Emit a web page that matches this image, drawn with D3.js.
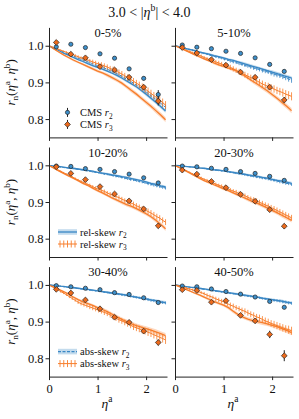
<!DOCTYPE html>
<html>
<head>
<meta charset="utf-8">
<script src="https://cdn.jsdelivr.net/npm/d3@7"></script>
<style>
  body { margin: 0; background: #fff; }
  svg text { font-family: "Liberation Serif", "DejaVu Serif", serif; fill: #111; }
</style>
</head>
<body>
<script>
// ---- data ----
const panelLabels = ["0-5%", "5-10%", "10-20%", "20-30%", "30-40%", "40-50%"];
const xTicks = [0, 1, 2];
const yTicks = [0.8, 0.9, 1.0];

// CMS points
const etaCMS = [0.15, 0.45, 0.75, 1.05, 1.35, 1.65, 1.95, 2.25];
const cmsR2 = [
  [0.997, 1.004, 0.995, 0.978, 0.966, 0.937, 0.911, 0.867],
  [1.002, 0.996, 0.992, 0.985, 0.979, 0.967, 0.949, 0.930],
  [0.998, 0.997, 0.991, 0.989, 0.983, 0.976, 0.966, 0.952],
  [0.998, 0.996, 0.992, 0.989, 0.983, 0.978, 0.970, 0.959],
  [0.998, 0.995, 0.991, 0.987, 0.979, 0.974, 0.965, 0.952],
  [0.997, 0.995, 0.989, 0.982, 0.975, 0.967, 0.955, 0.939]
];
const cmsR2Err = [
  [0.002, 0.002, 0.002, 0.003, 0.003, 0.004, 0.005, 0.012],
  [0.002, 0.002, 0.002, 0.002, 0.003, 0.003, 0.004, 0.005],
  [0.001, 0.001, 0.002, 0.002, 0.002, 0.002, 0.003, 0.003],
  [0.001, 0.001, 0.002, 0.002, 0.002, 0.002, 0.003, 0.003],
  [0.001, 0.001, 0.002, 0.002, 0.002, 0.002, 0.003, 0.004],
  [0.002, 0.002, 0.002, 0.002, 0.003, 0.003, 0.003, 0.004]
];
const cmsR3 = [
  [1.009, 0.977, 0.967, 0.943, 0.934, 0.914, 0.887, 0.849],
  [0.995, 0.980, 0.962, 0.947, 0.928, 0.914, 0.887, 0.852],
  [0.996, 0.978, 0.961, 0.942, 0.922, 0.903, 0.881, 0.835],
  [0.987, 0.976, 0.956, 0.939, 0.921, 0.902, 0.879, 0.834],
  [0.988, 0.978, 0.959, 0.935, 0.912, 0.898, 0.874, 0.843],
  [0.987, 0.985, 0.953, 0.957, 0.917, 0.902, 0.865, 0.807]
];
const cmsR3Err = [
  [0.003, 0.003, 0.004, 0.004, 0.005, 0.006, 0.007, 0.012],
  [0.003, 0.003, 0.003, 0.004, 0.004, 0.005, 0.006, 0.008],
  [0.002, 0.003, 0.003, 0.003, 0.004, 0.004, 0.005, 0.006],
  [0.002, 0.003, 0.003, 0.003, 0.004, 0.004, 0.005, 0.007],
  [0.002, 0.003, 0.003, 0.004, 0.004, 0.005, 0.006, 0.008],
  [0.003, 0.003, 0.004, 0.005, 0.005, 0.006, 0.010, 0.015]
];

// smooth model curves (line + shaded band)
const etaModel = [0, 0.1, 0.2, 0.3, 0.4, 0.5, 0.6, 0.7, 0.8, 0.9, 1.0, 1.1, 1.2,
                  1.3, 1.4, 1.5, 1.6, 1.7, 1.8, 1.9, 2.0, 2.1, 2.2, 2.3, 2.4];
const r2Band = [
  [1.000,.993,.987,.980,.974,.968,.962,.957,.951,.946,.941,.936,.931,.925,.919,.912,.904,.896,.888,.878,.868,.857,.846,.834,.822],
  [1.000,.997,.993,.990,.987,.983,.980,.977,.973,.970,.967,.963,.960,.956,.952,.948,.944,.940,.936,.932,.928,.924,.920,.916,.912],
  [1.000,.998,.997,.995,.993,.992,.990,.988,.986,.984,.981,.979,.977,.974,.972,.969,.967,.964,.961,.958,.955,.951,.948,.944,.941],
  [1.000,.999,.997,.996,.995,.993,.992,.990,.988,.987,.985,.983,.981,.979,.977,.974,.972,.970,.967,.965,.962,.959,.957,.954,.951],
  [1.000,.999,.997,.996,.994,.993,.991,.989,.988,.986,.984,.982,.980,.978,.976,.974,.972,.969,.967,.964,.962,.959,.957,.954,.952],
  [1.000,.998,.996,.994,.993,.991,.989,.987,.985,.983,.981,.979,.977,.975,.973,.971,.969,.967,.964,.962,.960,.958,.956,.953,.951]
];
const r3Band = [
  [1.000,.991,.983,.975,.968,.961,.955,.949,.943,.937,.931,.926,.920,.913,.906,.898,.888,.878,.868,.857,.846,.835,.823,.811,.798],
  [1.000,.994,.988,.982,.976,.970,.964,.959,.953,.948,.944,.939,.935,.929,.921,.912,.903,.895,.886,.877,.867,.857,.846,.835,.823],
  [1.000,.992,.985,.978,.971,.965,.958,.951,.945,.938,.931,.925,.918,.911,.905,.899,.893,.888,.882,.875,.868,.860,.850,.839,.827],
  [1.000,.993,.986,.979,.972,.965,.958,.953,.947,.942,.936,.931,.925,.919,.913,.907,.901,.896,.890,.884,.877,.871,.864,.857,.850],
  [1.000,.994,.988,.982,.975,.967,.960,.954,.949,.944,.938,.933,.927,.920,.913,.906,.900,.894,.889,.885,.881,.877,.872,.867,.862],
  [1.000,.995,.989,.984,.978,.973,.967,.961,.955,.950,.945,.938,.928,.919,.912,.907,.903,.900,.897,.894,.890,.886,.881,.876,.870]
];
// model curves drawn with error bars, on a finer grid
const etaBars = [0, .06, .12, .18, .24, .30, .36, .42, .48, .54, .60, .66, .72, .78, .84, .90, .96,
                 1.02, 1.08, 1.14, 1.20, 1.26, 1.32, 1.38, 1.44, 1.50, 1.56, 1.62, 1.68, 1.74, 1.80,
                 1.86, 1.92, 1.98, 2.04, 2.10, 2.16, 2.22, 2.28, 2.34, 2.40];
const r2Bars = [
  [1.000,.996,.993,.990,.987,.983,.979,.976,.973,.970,.966,.963,.960,.957,.954,.951,.948,.945,.942,.939,.936,.932,.929,.925,.921,.917,.912,.907,.903,.898,.893,.888,.882,.876,.870,.864,.858,.852,.845,.839,.832],
  [1.000,.998,.996,.994,.991,.990,.988,.985,.983,.981,.979,.977,.974,.972,.970,.968,.966,.963,.961,.958,.956,.954,.951,.949,.946,.944,.942,.939,.937,.935,.932,.930,.928,.925,.922,.920,.918,.915,.912,.909,.906],
  [1.000,.999,.998,.996,.995,.994,.993,.992,.991,.990,.989,.988,.987,.985,.984,.982,.981,.980,.978,.976,.975,.973,.972,.970,.969,.967,.965,.963,.961,.960,.958,.956,.954,.952,.950,.948,.946,.944,.942,.940,.938],
  [1.000,.999,.999,.998,.997,.996,.995,.994,.993,.992,.991,.990,.989,.988,.987,.986,.985,.984,.982,.981,.980,.978,.977,.976,.974,.973,.971,.970,.968,.967,.965,.964,.962,.960,.959,.957,.955,.953,.951,.950,.948],
  [1.000,.999,.999,.998,.997,.995,.994,.993,.992,.991,.990,.989,.988,.987,.986,.985,.984,.983,.982,.980,.979,.978,.977,.976,.975,.973,.972,.971,.969,.968,.966,.965,.963,.961,.960,.958,.957,.955,.954,.952,.951],
  [1.000,.999,.998,.996,.995,.994,.993,.992,.990,.989,.988,.987,.986,.984,.983,.982,.981,.980,.978,.977,.976,.975,.974,.972,.971,.970,.969,.968,.966,.965,.963,.962,.961,.959,.958,.957,.956,.954,.953,.951,.950]
];
const r3Bars = [
  [1.000,.997,.994,.991,.988,.985,.982,.979,.976,.973,.970,.967,.964,.962,.959,.956,.953,.950,.948,.945,.942,.938,.935,.931,.927,.923,.918,.913,.909,.903,.898,.893,.887,.882,.876,.870,.864,.858,.851,.845,.838],
  [1.000,.997,.994,.991,.987,.985,.981,.978,.975,.972,.968,.965,.962,.959,.956,.953,.950,.947,.944,.941,.937,.933,.929,.925,.921,.917,.913,.909,.905,.900,.896,.892,.889,.885,.882,.878,.875,.872,.868,.865,.862],
  [1.000,.996,.992,.988,.984,.980,.976,.972,.968,.964,.960,.956,.953,.949,.946,.942,.938,.935,.932,.929,.925,.921,.918,.915,.912,.908,.904,.901,.898,.894,.890,.886,.882,.878,.874,.870,.865,.860,.856,.850,.845],
  [1.000,.996,.992,.989,.985,.981,.977,.973,.970,.966,.962,.959,.956,.952,.949,.946,.943,.940,.936,.933,.930,.927,.923,.920,.917,.913,.909,.906,.903,.899,.896,.892,.889,.885,.881,.877,.873,.869,.865,.861,.857],
  [1.000,.996,.991,.987,.982,.978,.973,.968,.963,.958,.953,.949,.946,.943,.940,.937,.934,.931,.928,.925,.922,.918,.913,.909,.905,.902,.898,.894,.890,.886,.883,.880,.877,.874,.871,.868,.864,.861,.857,.854,.850],
  [1.000,.998,.996,.994,.991,.989,.987,.984,.982,.979,.976,.972,.969,.966,.962,.959,.956,.953,.949,.945,.942,.938,.935,.931,.928,.924,.920,.917,.913,.910,.906,.902,.899,.895,.892,.889,.886,.883,.880,.878,.875]
];
// uncertainty half-widths, shared by centrality group (central, mid, peripheral)
const errGroup = [0, 0, 1, 1, 2, 2];
const r2BandErr = [
  [0,.001,.001,.002,.002,.002,.002,.003,.003,.003,.003,.003,.003,.003,.004,.004,.004,.004,.004,.004,.005,.005,.005,.005,.005],
  [0,.001,.001,.001,.001,.002,.002,.002,.002,.002,.002,.002,.003,.003,.003,.003,.003,.003,.003,.003,.003,.003,.004,.004,.004],
  [0,.001,.001,.001,.001,.002,.002,.002,.002,.002,.002,.002,.003,.003,.003,.003,.003,.003,.003,.003,.003,.003,.004,.004,.004]
];
const r3BandErr = [
  [0,.001,.002,.002,.003,.003,.003,.003,.004,.004,.004,.004,.005,.005,.005,.005,.005,.006,.006,.006,.006,.006,.007,.007,.007],
  [0,.001,.002,.002,.002,.003,.003,.003,.003,.004,.004,.004,.004,.004,.004,.005,.005,.005,.005,.005,.005,.005,.006,.006,.006],
  [0,.001,.002,.002,.003,.003,.003,.004,.004,.004,.004,.005,.005,.005,.005,.005,.006,.006,.006,.006,.006,.006,.007,.007,.007]
];
const r2BarsErr = [
  [0,.001,.001,.001,.001,.001,.002,.002,.002,.002,.002,.002,.002,.003,.003,.003,.003,.003,.003,.004,.004,.004,.004,.004,.004,.004,.005,.005,.005,.005,.005,.005,.005,.006,.006,.006,.006,.006,.006,.007,.007],
  [0,.001,.001,.001,.001,.001,.001,.001,.001,.001,.001,.001,.002,.002,.002,.002,.002,.002,.002,.002,.002,.002,.003,.003,.003,.003,.003,.003,.003,.003,.003,.003,.003,.003,.004,.004,.004,.004,.004,.004,.004],
  [0,.001,.001,.001,.001,.001,.001,.001,.001,.001,.001,.001,.002,.002,.002,.002,.002,.002,.002,.002,.002,.002,.003,.003,.003,.003,.003,.003,.003,.003,.003,.003,.003,.003,.004,.004,.004,.004,.004,.004,.004]
];
const r3BarsErr = [
  [0,.001,.001,.002,.002,.002,.003,.003,.003,.004,.004,.004,.005,.005,.005,.006,.006,.006,.007,.007,.007,.007,.008,.008,.008,.008,.008,.009,.009,.009,.009,.009,.010,.010,.010,.010,.010,.011,.011,.011,.011],
  [0,.001,.001,.001,.002,.002,.002,.003,.003,.003,.003,.004,.004,.004,.004,.004,.005,.005,.005,.005,.005,.006,.006,.006,.006,.006,.006,.007,.007,.007,.007,.007,.007,.007,.008,.008,.008,.008,.008,.008,.008],
  [0,.002,.002,.002,.003,.003,.003,.004,.004,.004,.005,.005,.005,.005,.006,.006,.006,.006,.006,.007,.007,.007,.007,.007,.008,.008,.008,.008,.008,.009,.009,.009,.009,.009,.010,.010,.010,.010,.010,.011,.011]
];

// ---- layout ----
const W = 299, H = 419;
const colX = [49, 175], panelW = 118;
const rowY = [27.4, 147, 266.6], panelH = 110;

const blue = "#3987c5", orange = "#f77d2b";
const blueMark = "#3d90cc", orangeMark = "#ec6a1c";
const ink = "#222";

const svg = d3.select("body").append("svg")
    .attr("width", W)
    .attr("height", H);

// write a little math string with italic / sub / sup parts
function mathText(txt, parts, fs) {
  let shift = 0;
  parts.forEach(p => {
    let target = 0, size = fs;
    if (p.sub) { target = fs * 0.28; size = fs * 0.7; }
    if (p.sup) { target = -fs * 0.38; size = fs * 0.7; }
    const t = txt.append("tspan").attr("font-size", size).text(p.t);
    if (p.i) t.style("font-style", "italic");
    if (target !== shift) { t.attr("dy", target - shift); shift = target; }
  });
}

// suptitle
mathText(svg.append("text")
    .attr("x", 149.5).attr("y", 16.5)
    .attr("text-anchor", "middle"),
  [{t: "3.0 < |"}, {t: "η", i: true}, {t: "b", sup: true}, {t: "| < 4.0"}], 14);

function drawBand(g, x, y, vals, errs, color, dash) {
  const pts = etaModel.map((e, k) => ({e: e, v: vals[k], s: errs[k]}));
  g.append("path")
      .datum(pts)
      .attr("fill", color)
      .attr("fill-opacity", 0.3)
      .attr("d", d3.area().x(d => x(d.e)).y0(d => y(d.v - d.s)).y1(d => y(d.v + d.s)));
  g.append("path")
      .datum(pts)
      .attr("fill", "none")
      .attr("stroke", color)
      .attr("stroke-width", 1.3)
      .attr("stroke-dasharray", dash)
      .attr("d", d3.line().x(d => x(d.e)).y(d => y(d.v)));
}

function drawBars(g, x, y, vals, errs, color, dash) {
  const pts = etaBars.map((e, k) => ({e: e, v: vals[k], s: errs[k]}));
  g.append("path")
      .datum(pts)
      .attr("fill", "none")
      .attr("stroke", color)
      .attr("stroke-width", 1)
      .attr("stroke-dasharray", dash)
      .attr("d", d3.line().x(d => x(d.e)).y(d => y(d.v)));
  g.selectAll(null)
      .data(pts.filter(d => d.s > 0))
      .enter().append("line")
      .attr("x1", d => x(d.e)).attr("x2", d => x(d.e))
      .attr("y1", d => y(d.v - d.s)).attr("y2", d => y(d.v + d.s))
      .attr("stroke", color)
      .attr("stroke-width", 0.8);
}

function diamond(cx, cy, r) {
  return "M" + cx + "," + (cy - r) + "L" + (cx + r) + "," + cy +
         "L" + cx + "," + (cy + r) + "L" + (cx - r) + "," + cy + "Z";
}

function drawCMS(g, x, y, vals, errs, kind) {
  const pts = etaCMS.map((e, k) => ({e: e, v: vals[k], s: errs[k]}));
  g.selectAll(null)
      .data(pts)
      .enter().append("line")
      .attr("x1", d => x(d.e)).attr("x2", d => x(d.e))
      .attr("y1", d => y(d.v - d.s)).attr("y2", d => y(d.v + d.s))
      .attr("stroke", ink)
      .attr("stroke-width", 1);
  if (kind === "circle") {
    g.selectAll(null)
        .data(pts)
        .enter().append("circle")
        .attr("cx", d => x(d.e)).attr("cy", d => y(d.v))
        .attr("r", 2.1)
        .attr("fill", blueMark)
        .attr("stroke", ink)
        .attr("stroke-width", 0.7);
  } else {
    g.selectAll(null)
        .data(pts)
        .enter().append("path")
        .attr("d", d => diamond(x(d.e), y(d.v), 2.9))
        .attr("fill", orangeMark)
        .attr("stroke", ink)
        .attr("stroke-width", 0.7);
  }
}

// legend helpers
function legendText(g, lx, ly, label, n) {
  mathText(g.append("text").attr("x", lx).attr("y", ly + 3.5),
    [{t: label + " "}, {t: "r", i: true}, {t: String(n), sub: true}], 10.5);
}

panelLabels.forEach((lab, i) => {
  const col = i % 2, row = Math.floor(i / 2);
  const x0 = colX[col], top = rowY[row];
  const x = d3.scaleLinear().domain([0, 2.43]).range([x0, x0 + panelW]);
  const y = d3.scaleLinear().domain([0.75, 1.05]).range([top + panelH, top]);
  const grp = errGroup[i];
  const g = svg.append("g");

  drawBand(g, x, y, r2Band[i], r2BandErr[grp], blue, null);
  drawBand(g, x, y, r3Band[i], r3BandErr[grp], orange, null);
  drawBars(g, x, y, r2Bars[i], r2BarsErr[grp], blue, "3,1.5");
  drawBars(g, x, y, r3Bars[i], r3BarsErr[grp], orange, null);
  drawCMS(g, x, y, cmsR2[i], cmsR2Err[i], "circle");
  drawCMS(g, x, y, cmsR3[i], cmsR3Err[i], "diamond");

  // axes
  const yAxis = d3.axisLeft(y).tickValues(yTicks).tickSize(3.5).tickSizeOuter(0).tickPadding(2)
      .tickFormat(col === 0 ? d3.format(".1f") : () => "");
  const xAxis = d3.axisBottom(x).tickValues(xTicks).tickSize(3.5).tickSizeOuter(0).tickPadding(4)
      .tickFormat(row === 2 ? d3.format("d") : () => "");
  const ya = g.append("g").attr("transform", "translate(" + x0 + ",0)").call(yAxis);
  const xa = g.append("g").attr("transform", "translate(0," + (top + panelH) + ")").call(xAxis);
  [ya, xa].forEach(a => {
    a.select(".domain").attr("stroke", ink).attr("stroke-width", 1);
    a.selectAll(".tick line").attr("stroke", ink).attr("stroke-width", 1);
    a.selectAll(".tick text")
        .attr("fill", "#111")
        .style("font-family", "'Liberation Serif', serif")
        .style("font-size", "12.5px");
  });

  // panel title
  g.append("text")
      .attr("x", x0 + panelW / 2)
      .attr("y", top + 9.6)
      .attr("text-anchor", "middle")
      .style("font-size", "12.5px")
      .text(lab);

  // legends
  const lx = x0 + 9, lx2 = x0 + 28, tx = x0 + 31;
  const ly1 = top + 85, ly2 = top + 97;
  if (i === 0) {
    const mx = (lx + lx2) / 2;
    g.append("line").attr("x1", mx).attr("x2", mx).attr("y1", ly1 - 4.5).attr("y2", ly1 + 4.5)
        .attr("stroke", ink);
    g.append("circle").attr("cx", mx).attr("cy", ly1).attr("r", 2.1)
        .attr("fill", blueMark).attr("stroke", ink).attr("stroke-width", 0.7);
    g.append("line").attr("x1", mx).attr("x2", mx).attr("y1", ly2 - 4.5).attr("y2", ly2 + 4.5)
        .attr("stroke", ink);
    g.append("path").attr("d", diamond(mx, ly2, 2.9))
        .attr("fill", orangeMark).attr("stroke", ink).attr("stroke-width", 0.7);
    legendText(g, tx, ly1, "CMS", 2);
    legendText(g, tx, ly2, "CMS", 3);
  }
  if (i === 2 || i === 4) {
    const dash = i === 4 ? "3,1.5" : null;
    g.append("rect").attr("x", lx).attr("y", ly1 - 2.8).attr("width", lx2 - lx).attr("height", 5.6)
        .attr("fill", blue).attr("fill-opacity", 0.3);
    g.append("line").attr("x1", lx).attr("x2", lx2).attr("y1", ly1).attr("y2", ly1)
        .attr("stroke", blue).attr("stroke-width", 1.3).attr("stroke-dasharray", dash);
    g.append("line").attr("x1", lx).attr("x2", lx2).attr("y1", ly2).attr("y2", ly2)
        .attr("stroke", orange).attr("stroke-width", 1);
    d3.range(5).forEach(k => {
      const bx = lx + 2 + k * (lx2 - lx - 4) / 4;
      g.append("line").attr("x1", bx).attr("x2", bx).attr("y1", ly2 - 3.5).attr("y2", ly2 + 3.5)
          .attr("stroke", orange).attr("stroke-width", 0.9);
    });
    const name = i === 2 ? "rel-skew" : "abs-skew";
    legendText(g, tx, ly1, name, 2);
    legendText(g, tx, ly2, name, 3);
  }

  // y label on the left column
  if (col === 0) {
    const t = g.append("text")
        .attr("transform", "translate(14.5," + (top + panelH / 2) + ") rotate(-90)")
        .attr("text-anchor", "middle");
    mathText(t, [{t: "r", i: true}, {t: "n", sub: true}, {t: "("}, {t: "η", i: true},
                 {t: "a", sup: true}, {t: ", "}, {t: "η", i: true}, {t: "b", sup: true}, {t: ")"}], 13);
  }
  // x label on the bottom row
  if (row === 2) {
    const t = g.append("text")
        .attr("x", x0 + panelW / 2 - 1)
        .attr("y", 407.5)
        .attr("text-anchor", "middle");
    mathText(t, [{t: "η", i: true}, {t: "a", sup: true}], 13.5);
  }
});
</script>
</body>
</html>
